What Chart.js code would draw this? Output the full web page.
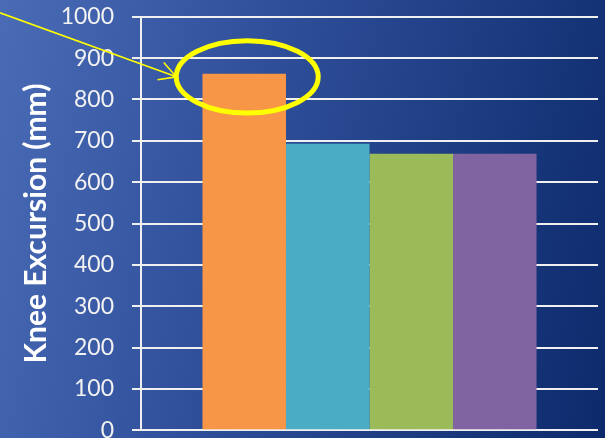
<!DOCTYPE html>
<html>
<head>
<meta charset="utf-8">
<script src="https://cdn.jsdelivr.net/npm/chart.js@4.4.1/dist/chart.umd.min.js"></script>
<style>
  html, body {
    margin: 0;
    padding: 0;
    width: 605px;
    height: 438px;
    overflow: hidden;
    background: linear-gradient(102deg, #4a6bb6 0%, #2f4f9a 40%, #0c2a6b 100%);
  }
  #wrap {
    width: 605px;
    height: 477px;
    margin-top: -15px;
  }
</style>
</head>
<body>
<div id="wrap"><canvas id="myChart"></canvas></div>
<script>
// Chart data
const groupLabels = [''];
const seriesNames = ['A', 'B', 'C', 'D'];
const seriesValues = [862, 693, 669, 669];
const seriesColors = ['#F79646', '#4BACC6', '#9BBB59', '#8064A2'];
const yTicks = [0, 100, 200, 300, 400, 500, 600, 700, 800, 900, 1000];

const padLeft = 18;
const axisWidth = 123;

// Yellow ring around the tallest bar plus a pointer line coming in from the left
const highlightPlugin = {
    id: 'highlight',
    afterDatasetsDraw(chart) {
        const bar = chart.getDatasetMeta(0).data[0];
        const c = chart.ctx;
        const cx = bar.x + 3;
        const cy = bar.y + 3;
        const rx = bar.width * 0.85;
        const ry = rx * 0.51;

        c.save();
        c.strokeStyle = '#FFFF00';
        c.lineWidth = 5;
        c.beginPath();
        c.ellipse(cx, cy, rx, ry, 0, 0, Math.PI * 2);
        c.stroke();

        // pointer line ending at the left side of the ring
        const tipX = cx - rx;
        const tipY = cy;
        const startX = 0;
        const startY = chart.chartArea.top - 4;
        c.lineWidth = 1.6;
        c.beginPath();
        c.moveTo(startX, startY);
        c.lineTo(tipX, tipY);
        const ang = Math.atan2(tipY - startY, tipX - startX);
        const len = 19;
        const spread = 29 * Math.PI / 180;
        c.moveTo(tipX - len * Math.cos(ang - spread), tipY - len * Math.sin(ang - spread));
        c.lineTo(tipX, tipY);
        c.lineTo(tipX - len * Math.cos(ang + spread), tipY - len * Math.sin(ang + spread));
        c.stroke();
        c.restore();
    }
};

const ctx = document.getElementById('myChart').getContext('2d');

new Chart(ctx, {
    type: 'bar',
    data: {
        labels: groupLabels,
        datasets: seriesNames.map((name, i) => ({
            label: name,
            data: [seriesValues[i]],
            backgroundColor: seriesColors[i],
            borderWidth: 0
        }))
    },
    options: {
        responsive: true,
        maintainAspectRatio: false,
        animation: false,
        layout: {
            padding: {
                left: padLeft,
                right: 7,
                top: 3,
                bottom: 7
            }
        },
        datasets: {
            bar: {
                categoryPercentage: 0.731,
                barPercentage: 1
            }
        },
        scales: {
            x: {
                display: false
            },
            y: {
                min: 0,
                max: 1000,
                afterBuildTicks: axis => {
                    axis.ticks = yTicks.map(v => ({ value: v }));
                },
                afterFit: axis => {
                    axis.width = axisWidth;
                },
                title: {
                    display: true,
                    text: 'Knee Excursion (mm)',
                    color: '#FFFFFF',
                    font: { family: 'Lato', size: 30, weight: 'bold' },
                    padding: { top: 0, bottom: 0 }
                },
                ticks: {
                    color: '#F2F2F2',
                    font: { family: 'Lato', size: 23 },
                    padding: 18,
                    callback: v => String(v)
                },
                grid: {
                    color: '#F0F0F0',
                    lineWidth: 2,
                    tickLength: 9
                },
                border: {
                    display: true,
                    color: '#F0F0F0',
                    width: 2
                }
            }
        },
        plugins: {
            legend: { display: false },
            tooltip: { enabled: false }
        }
    },
    plugins: [highlightPlugin]
});
</script>
</body>
</html>
